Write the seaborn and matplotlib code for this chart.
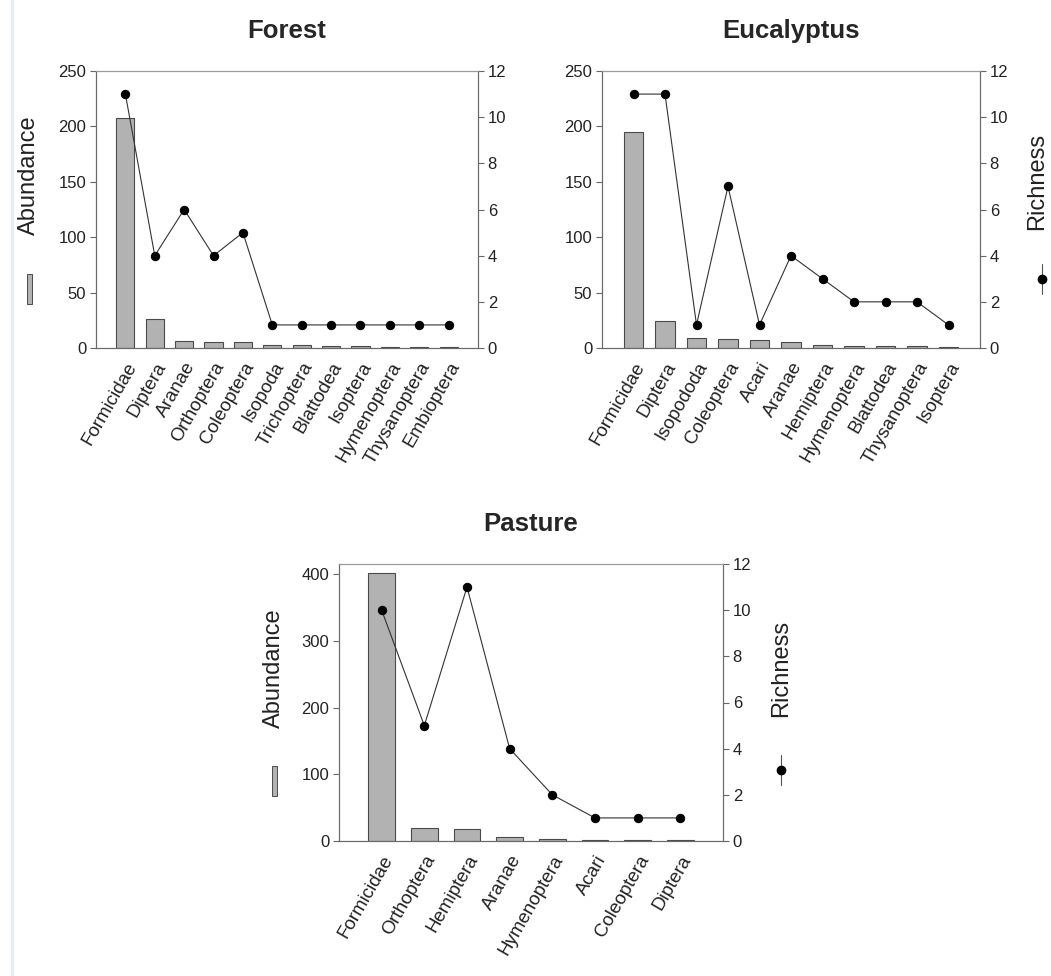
import numpy as np
import pandas as pd
import seaborn as sns
import matplotlib.pyplot as plt
from matplotlib.patches import Rectangle
from matplotlib.lines import Line2D

# data
forest_taxa = ["Formicidae", "Diptera", "Aranae", "Orthoptera", "Coleoptera", "Isopoda",
               "Trichoptera", "Blattodea", "Isoptera", "Hymenoptera", "Thysanoptera", "Embioptera"]
forest_abund = [208, 26, 6, 5, 5, 3, 3, 2, 2, 1, 1, 1]
forest_rich = [11, 4, 6, 4, 5, 1, 1, 1, 1, 1, 1, 1]

euc_taxa = ["Formicidae", "Diptera", "Isopododa", "Coleoptera", "Acari", "Aranae",
            "Hemiptera", "Hymenoptera", "Blattodea", "Thysanoptera", "Isoptera"]
euc_abund = [195, 24, 9, 8, 7, 5, 3, 2, 2, 2, 1]
euc_rich = [11, 11, 1, 7, 1, 4, 3, 2, 2, 2, 1]

past_taxa = ["Formicidae", "Orthoptera", "Hemiptera", "Aranae", "Hymenoptera",
             "Acari", "Coleoptera", "Diptera"]
past_abund = [402, 19, 18, 6, 3, 1, 1, 1]
past_rich = [10, 5, 11, 4, 2, 1, 1, 1]

sns.set_style("white")
plt.rcParams['font.family'] = ['Liberation Sans', 'DejaVu Sans']

fig = plt.figure(figsize=(10.51, 9.76), dpi=100)
W, H = 1051, 976


def panel(rect, title, taxa, abund, rich, ymax, ystep):
    ax = fig.add_axes(rect)
    df = pd.DataFrame({"Taxon": taxa, "Abundance": abund})
    sns.barplot(data=df, x="Taxon", y="Abundance", ax=ax, color="#b2b2b2",
                edgecolor="#4a4a4a", linewidth=0.8, width=0.62, saturation=1)
    ax.set_ylim(0, ymax)
    ax.set_yticks(np.arange(0, ymax + 1, ystep))
    n = len(taxa)
    ax.set_xlim(-1, n)
    ax.set_xlabel("")
    ax.set_ylabel("")
    ax.set_xticks(range(n))
    ax.set_xticklabels(taxa, rotation=60, ha="right", rotation_mode="anchor", fontsize=13.5)
    ax.tick_params(axis="both", direction="out", length=4, width=0.8, color="#666666",
                   labelsize=12, pad=3, labelcolor="#222222")
    ax.tick_params(axis="x", labelsize=13.5, pad=4)
    ax.set_title(title, fontsize=18.5, fontweight="bold", pad=24)

    ax2 = ax.twinx()
    sns.lineplot(x=np.arange(n), y=rich, ax=ax2, color="#333333", linewidth=0.8,
                 marker="o", markersize=6, markerfacecolor="black", markeredgecolor="black")
    ax2.set_ylim(0, 12)
    ax2.set_yticks(range(0, 13, 2))
    ax2.set_ylabel("")
    ax2.tick_params(axis="y", direction="out", length=4, width=0.8, color="#666666",
                    labelsize=12, pad=3, labelcolor="#222222")
    for a in (ax, ax2):
        for s in a.spines.values():
            s.set_color("#6a6a6a")
            s.set_linewidth(0.8)
        a.spines["top"].set_color("#9a9a9a")
    return ax, ax2


panel([96 / W, 1 - 348 / H, 382 / W, 277 / H], "Forest",
      forest_taxa, forest_abund, forest_rich, 250, 50)
panel([602 / W, 1 - 348 / H, 378 / W, 277 / H], "Eucalyptus",
      euc_taxa, euc_abund, euc_rich, 250, 50)
panel([339 / W, 1 - 841 / H, 384 / W, 277 / H], "Pasture",
      past_taxa, past_abund, past_rich, 415, 100)

# axis titles with small legend glyphs
def abundance_label(x, y_text, y_key):
    fig.text(x / W, 1 - y_text / H, "Abundance", rotation=90, fontsize=17,
             ha="center", va="center", color="#222222")
    fig.add_artist(Rectangle(((x - 2.5) / W, 1 - (y_key + 15) / H), 5 / W, 30 / H,
                             transform=fig.transFigure, facecolor="#b2b2b2",
                             edgecolor="#4a4a4a", linewidth=0.7))


def richness_label(x, y_text, y_key, key_x=None):
    key_x = x if key_x is None else key_x
    fig.text(x / W, 1 - y_text / H, "Richness", rotation=90, fontsize=17,
             ha="center", va="center", color="#222222")
    fig.add_artist(Line2D([key_x / W, key_x / W], [1 - (y_key - 15) / H, 1 - (y_key + 15) / H],
                          transform=fig.transFigure, color="#555555", linewidth=0.8))
    fig.add_artist(Line2D([key_x / W], [1 - y_key / H], transform=fig.transFigure,
                          marker="o", markersize=6, color="black"))


abundance_label(29, 175, 289)
richness_label(1037, 181, 279, key_x=1042)
abundance_label(274, 668, 781)
richness_label(781, 668, 770)

# faint page edge line on the left
fig.add_artist(Line2D([12 / W, 12 / W], [0, 1], transform=fig.transFigure,
                      color="#e6edf7", linewidth=2.5))

fig.savefig("out.png", dpi=100)
